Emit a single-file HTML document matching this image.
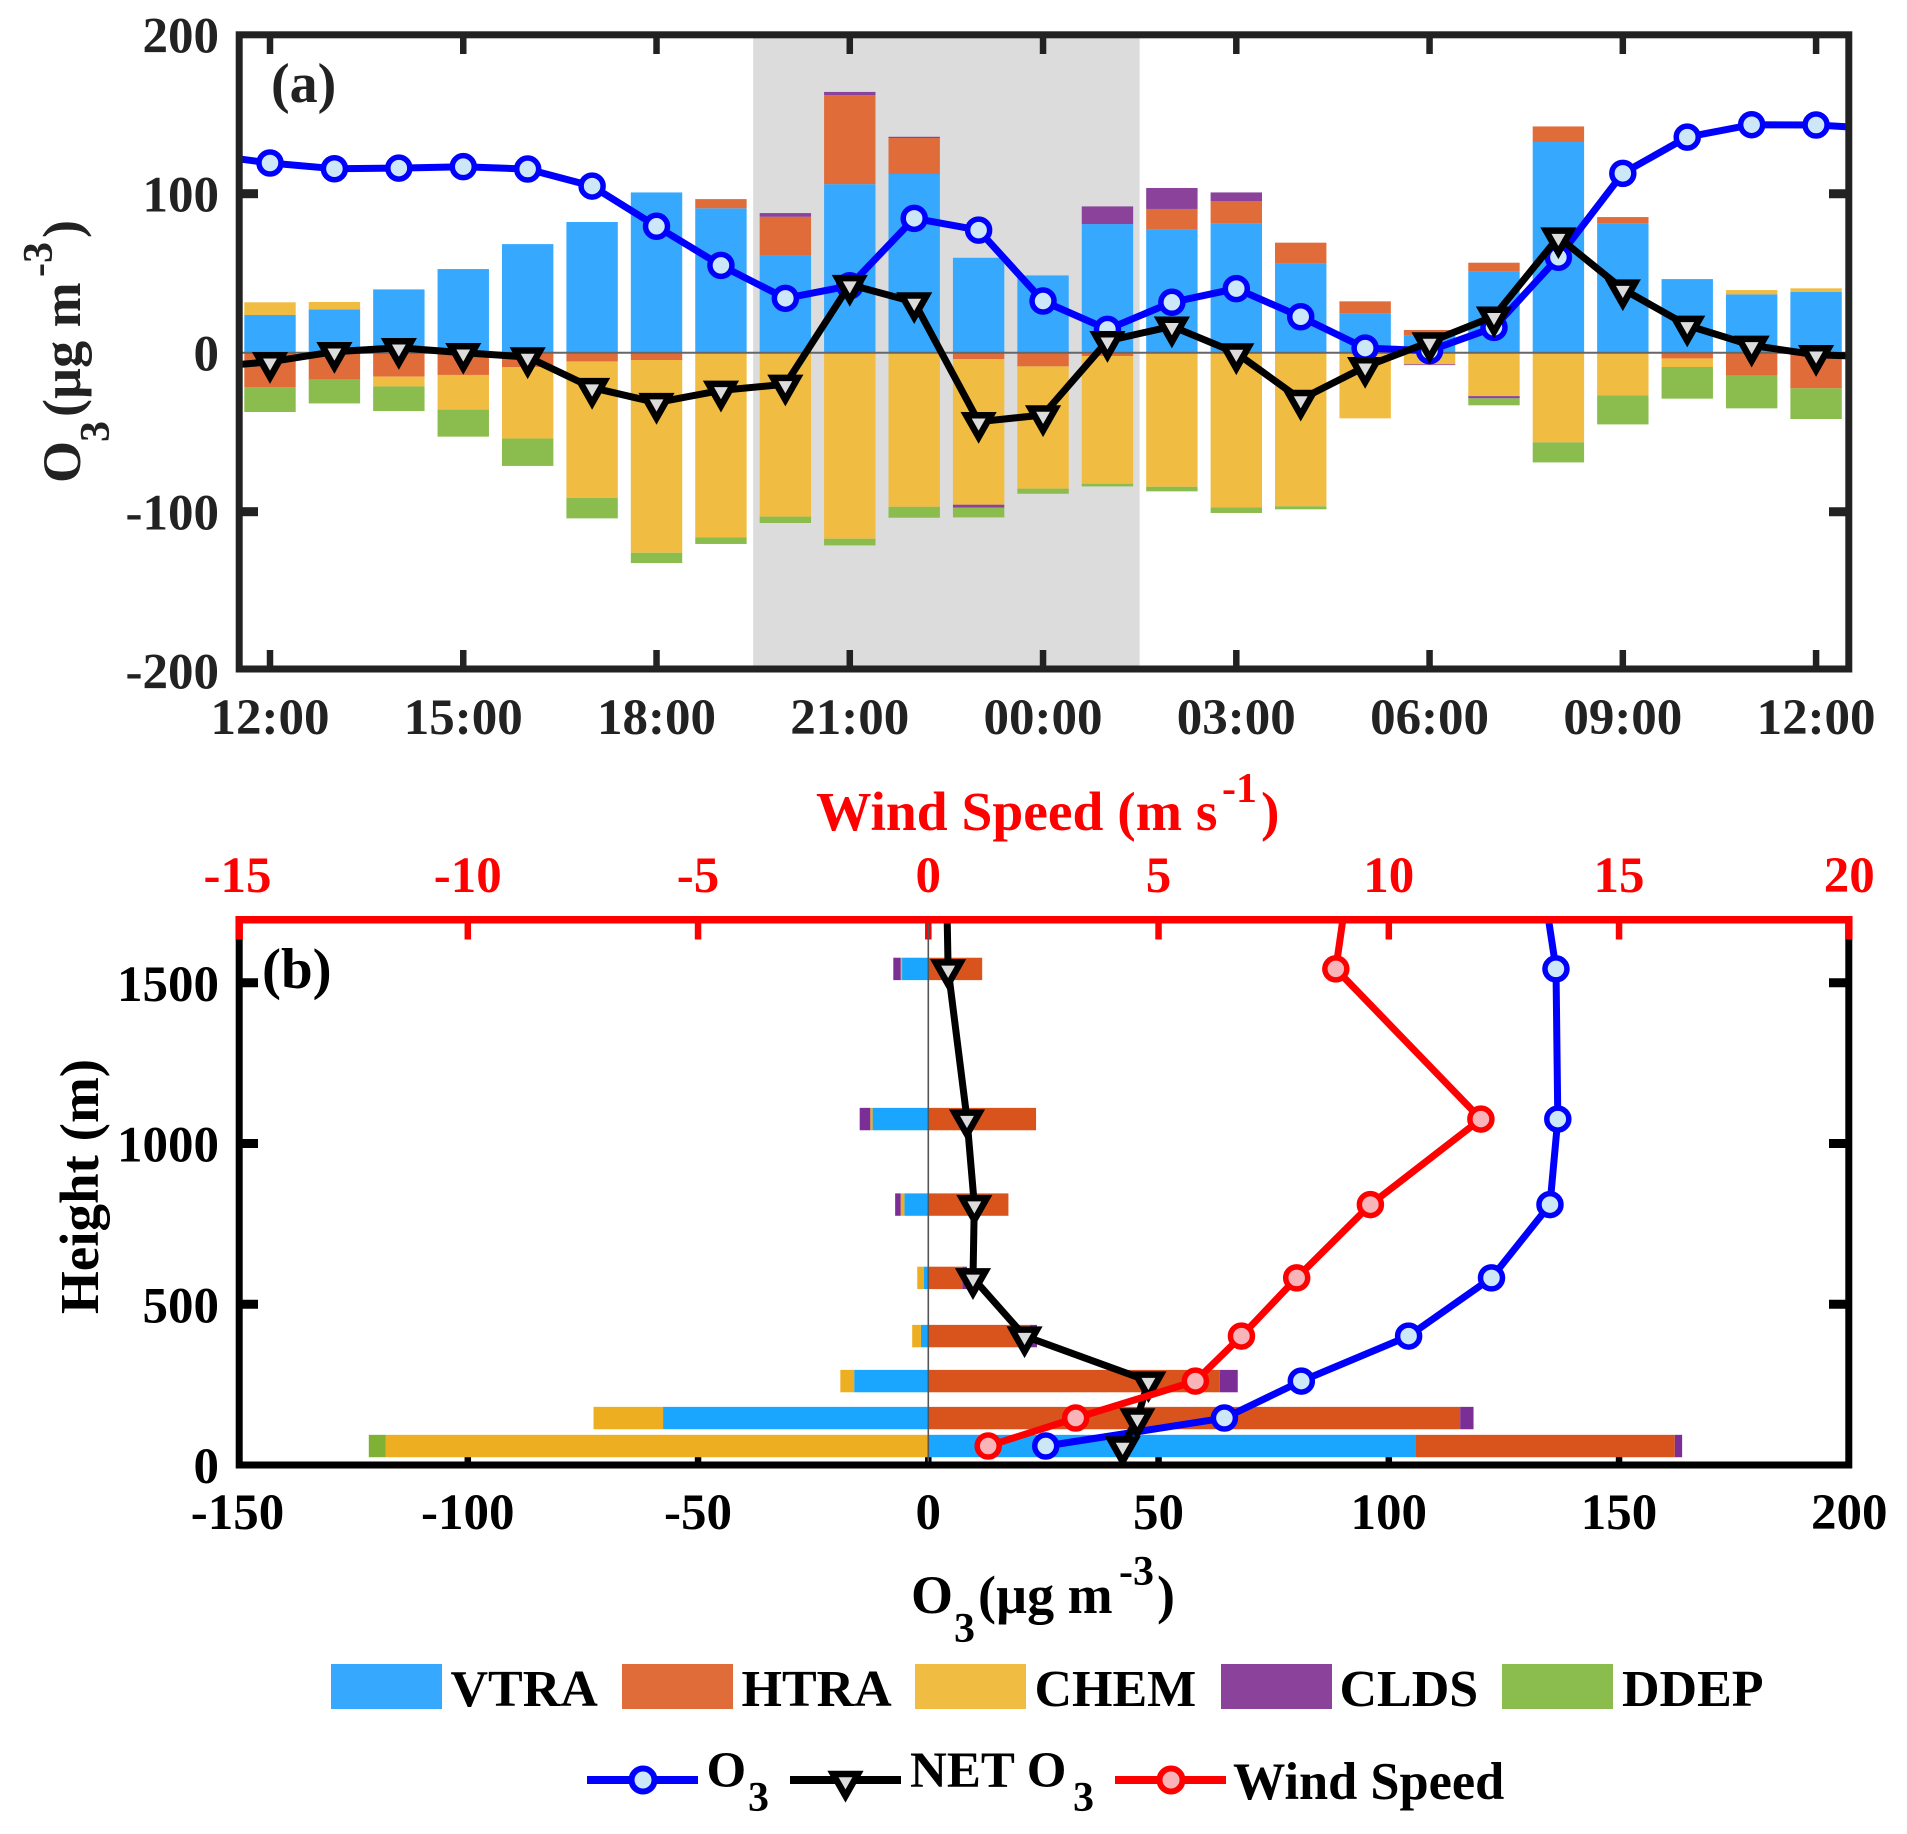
<!DOCTYPE html>
<html lang="en">
<head>
<meta charset="utf-8">
<title>O3 budget chart</title>
<style>
html,body{margin:0;padding:0;background:#fff;width:1907px;height:1834px;overflow:hidden}
svg{display:block}
text{font-family:"Liberation Serif",serif;font-weight:bold}
</style>
</head>
<body>
<svg id="chart" xmlns="http://www.w3.org/2000/svg" width="1907" height="1834" viewBox="0 0 1907 1834">
  <defs>
    <clipPath id="clip-a"><rect x="239" y="35" width="1610" height="634"/></clipPath>
    <clipPath id="clip-b"><rect x="239" y="920" width="1610" height="545"/></clipPath>
  </defs>
  <g id="panel-a"></g>
  <g id="panel-b"></g>

  <text x="271" y="102" font-size="56" fill="#222">(a)</text>
  <text x="262" y="988" font-size="57" fill="#000">(b)</text>

  <g transform="translate(80,483) rotate(-90)" fill="#222">
    <text font-size="54" x="0" y="0">O<tspan x="41" y="29" font-size="42">3</tspan><tspan x="66" y="0">(µg m</tspan><tspan x="206" y="-28" font-size="42">-3</tspan><tspan x="245" y="0">)</tspan></text>
  </g>
  <text transform="translate(98,1314) rotate(-90)" font-size="55" fill="#000">Height (m)</text>
  <text x="911" y="1613" font-size="54" fill="#000">O<tspan x="954" y="1642" font-size="42">3</tspan><tspan x="978" y="1613">(µg m</tspan><tspan x="1119" y="1585" font-size="42">-3</tspan><tspan x="1157" y="1613">)</tspan></text>
  <text x="816" y="830" font-size="55.5" fill="#ff0000">Wind Speed (m s<tspan x="1222" y="802" font-size="42">-1</tspan><tspan x="1261" y="830">)</tspan></text>

  <g font-size="52" fill="#000">
    <rect x="331" y="1664" width="111" height="45" fill="#36a9ff"/>
    <text x="450.5" y="1706">VTRA</text>
    <rect x="622" y="1664" width="111" height="45" fill="#e06c3a"/>
    <text x="741.5" y="1706">HTRA</text>
    <rect x="915" y="1664" width="111" height="45" fill="#f1bc42"/>
    <text x="1034.5" y="1706">CHEM</text>
    <rect x="1221" y="1664" width="111" height="45" fill="#8a429a"/>
    <text x="1339.5" y="1706">CLDS</text>
    <rect x="1502" y="1664" width="111" height="45" fill="#8bbc4e"/>
    <text x="1622" y="1706">DDEP</text>
  </g>
  <g font-size="51" fill="#000">
    <line x1="587" y1="1780" x2="698" y2="1780" stroke="#0000ff" stroke-width="8"/>
    <circle cx="643" cy="1780" r="11.5" fill="#cce8f8" stroke="#0000ff" stroke-width="6"/>
    <text x="706.5" y="1787">O<tspan x="748" y="1811" font-size="42">3</tspan></text>
    <line x1="790" y1="1780" x2="901" y2="1780" stroke="#000" stroke-width="8"/>
    <polygon points="833,1774 858,1774 845.5,1796" fill="#dcdcdc" stroke="#000" stroke-width="6.5" stroke-miterlimit="10"/>
    <text x="910" y="1787">NET O<tspan x="1073" y="1811" font-size="42">3</tspan></text>
    <line x1="1115" y1="1780" x2="1226" y2="1780" stroke="#ff0000" stroke-width="8"/>
    <circle cx="1171" cy="1780" r="11.5" fill="#f8b4b8" stroke="#ff0000" stroke-width="6"/>
    <text x="1233" y="1799" font-size="52.4">Wind Speed</text>
  </g>
</svg>
<script>
/* Panel (a) data: one value per hour, 12:00 to 12:00 */
const aTimeLabels = ['12:00','15:00','18:00','21:00','00:00','03:00','06:00','09:00','12:00'];
const aYTicks = [200,100,0,-100,-200];
const aVTRA = [23.7,27.3,39.8,52.6,68.3,82.2,100.8,90.8,61.2,106,112.4,59.7,48.6,80.9,77.4,81.1,56,24.9,11.1,50.9,132.5,81.1,46.3,36.7,38.2];
const aHTRA = [-21.8,-17,-15.1,-14,-9,-5.5,-4.6,5.8,24.3,56,22.6,-4,-8.6,-2.1,13,14.3,13.2,7.4,3.2,5.7,9.8,4.2,-3.6,-14.5,-22.4];
const aCHEM = [8,4.6,-6.1,-21.8,-45,-85.9,-121.2,-116.1,-103.1,-117,-96.9,-91.6,-76.9,-80.3,-84.3,-97.3,-96.6,-41.3,-7.3,-27.3,-56.4,-26.8,-5.4,2.7,2.3];
const aCLDS = [0,0,0,0,0,0,0,0,2.3,2,0.8,-1.9,0,11.1,13.2,5.4,0,0,-0.5,-1.4,0,0,0,0,0];
const aDDEP = [-15.5,-14.9,-15.5,-17,-17.2,-12.8,-6.5,-4.2,-4,-4.2,-6.9,-6.1,-3.2,-1.7,-2.9,-3.5,-1.9,0,0,-4.4,-12.6,-18.3,-19.9,-20.5,-19.3];
const aO3 = [119.3,115.7,116.1,117,115.5,104.8,79.5,54.9,34.2,42.1,84.5,77.1,32.5,14.7,31.7,40.3,22.6,2.9,1.3,15.9,60,112.8,135.6,143.4,143.2];
const aO3Edges = [122,142];
const aNet = [-5.7,0.6,3.1,0,-2.7,-22,-31.4,-23.7,-19.9,42.8,31.9,-43.4,-39.2,7.5,16.6,-0.2,-29.4,-8.8,6.7,22.9,72.7,40,17.2,4.6,-1.3];
const aNetEdges = [-7.5,-2];
const aNightSpan = [7.5,13.5];

/* Panel (b) data: one value per model level */
const bHeights = [1543,1076,810,582,401,261,146,59];
const bVTRA = [-5.7,-12.1,-5.2,-1,-1.6,-16.1,-57.6,105.9];
const bHTRA = [11.7,23.4,17.4,7.4,22,63.3,115.5,56.2];
const bCHEM = [-0.3,-0.5,-0.8,-1.4,-1.9,-3,-15.1,-117.8];
const bCLDS = [-1.6,-2.3,-1.2,1,1.6,3.9,2.9,1.6];
const bDDEP = [0,0,0,0,0,0,0,-3.7];
const bO3 = [136.3,136.7,135,122.3,104.3,81,64.3,25.5];
const bO3Top = 134.7;
const bNet = [4.3,8.4,10,9.7,20.9,47.8,45.4,42.2];
const bNetTop = 4.1;
const bWind = [8.85,12,9.6,8,6.8,5.8,3.2,1.3];
const bWindTop = 9;
const bLowerTicks = [-150,-100,-50,0,50,100,150,200];
const bUpperTicks = [-15,-10,-5,0,5,10,15,20];
const bYTicks = [1500,1000,500,0];
const bTopHeight = 1695;

/* Axis functions */
const xA = h => 270 + 64.42 * h;
const yA = v => 352.7 - 1.59 * v;
const xB = v => 928.3 + 4.605 * v;
const xW = v => 928.3 + 46.05 * v;
const yB = m => 1465 - 0.3215 * m;

const NS = 'http://www.w3.org/2000/svg';
function make(tag, attrs, parent) {
  const n = document.createElementNS(NS, tag);
  for (const k in attrs) n.setAttribute(k, attrs[k]);
  parent.appendChild(n);
  return n;
}
function stackedRanges(values) {
  let up = 0, down = 0;
  return values.map(v => {
    if (v >= 0) { const r = [up, up + v]; up += v; return r; }
    const r = [down + v, down]; down += v; return r;
  });
}
function trianglePoints(x, y) {
  return (x - 12.5) + ',' + (y - 6.5) + ' ' + (x + 12.5) + ',' + (y - 6.5) + ' ' + x + ',' + (y + 15.5);
}
function pointsAttr(pts) {
  return pts.map(p => p[0].toFixed(1) + ',' + p[1].toFixed(1)).join(' ');
}

const speciesNames = ['vtra','htra','chem','clds','ddep'];
const aColors = ['#36a9ff','#e06c3a','#f1bc42','#8a429a','#8bbc4e'];
const bColors = ['#1aa5ff','#d9541c','#edae22','#7b2f96','#7fb135'];

/* ---------- Panel (a) ---------- */
const pa = document.getElementById('panel-a');
const night = make('rect', {x: xA(aNightSpan[0]), y: 38, width: xA(aNightSpan[1]) - xA(aNightSpan[0]), height: 628, fill: '#dcdcdc'}, pa);



aTimeLabels.forEach((label, k) => {
  const h = k * 3;
  const top = make('line', {x1: xA(h), x2: xA(h), y1: 38, y2: 54, stroke: '#222', 'stroke-width': 6.5}, pa);
  
  
  const bot = make('line', {x1: xA(h), x2: xA(h), y1: 650, y2: 666, stroke: '#222', 'stroke-width': 6.5}, pa);
  
  
  const t = make('text', {x: xA(h), y: 734, 'text-anchor': 'middle', 'font-size': 51, fill: '#222'}, pa);
  
  
  t.textContent = label;
});
aYTicks.forEach(v => {
  if (Math.abs(v) !== 200 && v !== 0) {
    const l = make('line', {x1: 242, x2: 258, y1: yA(v), y2: yA(v), stroke: '#222', 'stroke-width': 9}, pa);
    
    
    const r = make('line', {x1: 1829, x2: 1846, y1: yA(v), y2: yA(v), stroke: '#222', 'stroke-width': 9}, pa);
    
    
  }
  const t = make('text', {x: 219, y: yA(v) + 18, 'text-anchor': 'end', 'font-size': 51, fill: '#222'}, pa);
  
  
  t.textContent = v;
});

const aSeries = [aVTRA, aHTRA, aCHEM, aCLDS, aDDEP];
const aStacks = aVTRA.map((_, i) => stackedRanges(aSeries.map(s => s[i])));
aStacks.forEach((ranges, i) => {
  ranges.forEach((r, s) => {
    if (r[0] === r[1]) return;
    const b = make('rect', {x: xA(i) - 25.7, width: 51.4, y: yA(r[1]), height: yA(r[0]) - yA(r[1]), fill: aColors[s]}, pa);
    
    
  });
});
const zeroA = make('line', {x1: 239, x2: 1849, y1: yA(0), y2: yA(0), stroke: '#666', 'stroke-width': 2}, pa);



const clipA = make('g', {'clip-path': 'url(#clip-a)'}, pa);


const o3PtsA = [[xA(-0.5), yA(aO3Edges[0])]].concat(aO3.map((v, i) => [xA(i), yA(v)]), [[xA(24.5), yA(aO3Edges[1])]]);
const o3LineA = make('polyline', {points: pointsAttr(o3PtsA), fill: 'none', stroke: '#0000ff', 'stroke-width': 7, 'stroke-linejoin': 'round'}, clipA);


aO3.forEach((v, i) => {
  const c = make('circle', {cx: xA(i), cy: yA(v), r: 11, fill: '#cce8f8', stroke: '#0000ff', 'stroke-width': 5.5}, clipA);
  
  
});
const netPtsA = [[xA(-0.5), yA(aNetEdges[0])]].concat(aNet.map((v, i) => [xA(i), yA(v)]), [[xA(24.5), yA(aNetEdges[1])]]);
const netLineA = make('polyline', {points: pointsAttr(netPtsA), fill: 'none', stroke: '#000', 'stroke-width': 7, 'stroke-linejoin': 'round'}, clipA);


aNet.forEach((v, i) => {
  const m = make('polygon', {points: trianglePoints(xA(i), yA(v)), fill: '#dcdcdc', stroke: '#000', 'stroke-width': 6.5, 'stroke-miterlimit': 10}, clipA);
  
  
});
const frameA = make('rect', {x: 239.2, y: 34.8, width: 1609.6, height: 634.2, fill: 'none', stroke: '#222', 'stroke-width': 7}, pa);



/* ---------- Panel (b) ---------- */
const pb = document.getElementById('panel-b');
bLowerTicks.forEach(v => {
  const isEdge = v === -150 || v === 200;
  if (!isEdge) {
    const l = make('line', {x1: xB(v), x2: xB(v), y1: 1445, y2: 1462, stroke: '#000', 'stroke-width': 6.5}, pb);
    
    
  }
  const t = make('text', {x: xB(v), y: 1529, 'text-anchor': 'middle', 'font-size': 51, fill: '#000'}, pb);
  
  
  t.textContent = v;
});
bUpperTicks.forEach(v => {
  const isEdge = v === -15 || v === 20;
  if (!isEdge) {
    const l = make('line', {x1: xW(v), x2: xW(v), y1: 923, y2: 939.5, stroke: '#ff0000', 'stroke-width': 6.5}, pb);
    
    
  }
  const t = make('text', {x: xW(v), y: 892, 'text-anchor': 'middle', 'font-size': 51, fill: '#ff0000'}, pb);
  
  
  t.textContent = v;
});
bYTicks.forEach(v => {
  if (v !== 0) {
    const l = make('line', {x1: 242, x2: 258, y1: yB(v), y2: yB(v), stroke: '#000', 'stroke-width': 9}, pb);
    
    
    const r = make('line', {x1: 1829, x2: 1846, y1: yB(v), y2: yB(v), stroke: '#000', 'stroke-width': 9}, pb);
    
    
  }
  const t = make('text', {x: 219, y: yB(v) + 18, 'text-anchor': 'end', 'font-size': 51, fill: '#000'}, pb);
  
  
  t.textContent = v;
});

const bSeries = [bVTRA, bHTRA, bCHEM, bCLDS, bDDEP];
const bStacks = bHeights.map((_, i) => stackedRanges(bSeries.map(s => s[i])));
bStacks.forEach((ranges, i) => {
  ranges.forEach((r, s) => {
    if (r[0] === r[1]) return;
    const b = make('rect', {x: xB(r[0]), width: xB(r[1]) - xB(r[0]), y: yB(bHeights[i]) - 11.2, height: 22.4, fill: bColors[s]}, pb);
    
    
  });
});
const zeroB = make('line', {x1: xB(0), x2: xB(0), y1: 923, y2: 1462, stroke: '#555', 'stroke-width': 1.6}, pb);



const clipB = make('g', {'clip-path': 'url(#clip-b)'}, pb);


const o3PtsB = [[xB(bO3Top), yB(bTopHeight)]].concat(bO3.map((v, i) => [xB(v), yB(bHeights[i])]));
const o3LineB = make('polyline', {points: pointsAttr(o3PtsB), fill: 'none', stroke: '#0000ff', 'stroke-width': 7, 'stroke-linejoin': 'round'}, clipB);


bO3.forEach((v, i) => {
  const c = make('circle', {cx: xB(v), cy: yB(bHeights[i]), r: 11, fill: '#cce8f8', stroke: '#0000ff', 'stroke-width': 5.5}, clipB);
  
  
});
const netPtsB = [[xB(bNetTop), yB(bTopHeight)]].concat(bNet.map((v, i) => [xB(v), yB(bHeights[i])]));
const netLineB = make('polyline', {points: pointsAttr(netPtsB), fill: 'none', stroke: '#000', 'stroke-width': 7, 'stroke-linejoin': 'round'}, clipB);


bNet.forEach((v, i) => {
  const m = make('polygon', {points: trianglePoints(xB(v), yB(bHeights[i])), fill: '#dcdcdc', stroke: '#000', 'stroke-width': 6.5, 'stroke-miterlimit': 10}, clipB);
  
  
});
const windPts = [[xW(bWindTop), yB(bTopHeight)]].concat(bWind.map((v, i) => [xW(v), yB(bHeights[i])]));
const windLine = make('polyline', {points: pointsAttr(windPts), fill: 'none', stroke: '#ff0000', 'stroke-width': 7, 'stroke-linejoin': 'round'}, clipB);


bWind.forEach((v, i) => {
  const c = make('circle', {cx: xW(v), cy: yB(bHeights[i]), r: 11, fill: '#f8b4b8', stroke: '#ff0000', 'stroke-width': 5.5}, clipB);
  
  
});
const frameB = make('path', {d: 'M239.2 939 V1465 H1848.8 V939', fill: 'none', stroke: '#000', 'stroke-width': 7}, pb);


const frameBTop = make('path', {d: 'M239.2 939.5 V919.7 H1848.8 V939.5', fill: 'none', stroke: '#ff0000', 'stroke-width': 7.5}, pb);


</script>
</body>
</html>
